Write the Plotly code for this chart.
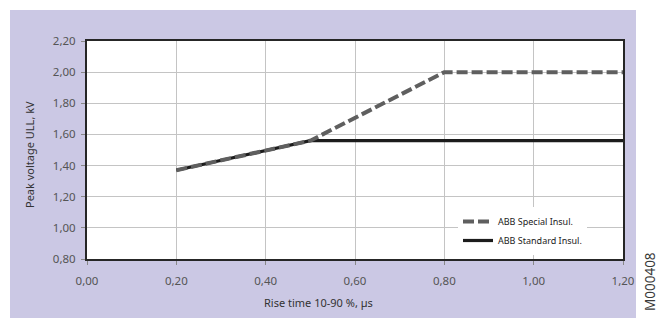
import plotly.graph_objects as go

# Rise time (µs) and peak line-to-line voltage (kV)
special_x = [0.20, 0.50, 0.80, 1.20]
special_y = [1.37, 1.56, 2.00, 2.00]
standard_x = [0.20, 0.50, 1.20]
standard_y = [1.37, 1.56, 1.56]

x_ticks = [0.0, 0.2, 0.4, 0.6, 0.8, 1.0, 1.2]
y_ticks = [0.8, 1.0, 1.2, 1.4, 1.6, 1.8, 2.0, 2.2]

W, H = 662, 321
L, R, T, B = 87, 39, 41, 62
pw, ph = W - L - R, H - T - B


def px_x(p):
    return (p - L) / pw


def px_y(p):
    return (H - B - p) / ph


fig = go.Figure()

# Standard drawn first so the dashed special line sits on top where they overlap
fig.add_trace(go.Scatter(
    x=standard_x, y=standard_y, mode="lines", name="ABB Standard Insul.",
    line=dict(color="#1c1c1c", width=3.2), legendrank=2,
))
fig.add_trace(go.Scatter(
    x=special_x, y=special_y, mode="lines", name="ABB Special Insul.",
    line=dict(color="#5f5f5f", width=4, dash="11px,4px"), legendrank=1,
))

# lavender panel behind the chart, with a white plotting area on top of it
fig.add_shape(
    type="rect", xref="paper", yref="paper", layer="below",
    x0=px_x(10), x1=px_x(636), y0=px_y(318), y1=px_y(10),
    fillcolor="#cbc8e4", line_width=0,
)
fig.add_shape(
    type="rect", xref="paper", yref="paper", layer="below",
    x0=0, x1=1, y0=0, y1=1, fillcolor="white", line_width=0,
)

title_font = dict(family="Noto Sans", size=11, color="#333333")
fig.add_annotation(
    text="Rise time 10-90 %, µs", xref="paper", yref="paper",
    x=px_x(318), y=px_y(302), xanchor="center", yanchor="middle",
    showarrow=False, font=title_font,
)
fig.add_annotation(
    text="Peak voltage ULL, kV", xref="paper", yref="paper",
    x=px_x(29), y=px_y(155), xanchor="center", yanchor="middle",
    textangle=-90, showarrow=False, font=title_font,
)
fig.add_annotation(
    text="M000408", xref="paper", yref="paper",
    x=px_x(650), y=px_y(282), xanchor="center", yanchor="middle",
    textangle=-90, showarrow=False, borderpad=0,
    font=dict(family="Noto Sans", size=13.5, color="#3a3a3a"),
)

axis_font = dict(family="Noto Sans", size=11.5, color="#555555")
common = dict(
    tickformat=".2f", showgrid=True, gridcolor="#c4c4c4", gridwidth=1,
    zeroline=False, showline=True, linecolor="#262626", linewidth=2,
    mirror=True, ticks="outside", ticklen=4, tickcolor="#888888",
    tickfont=axis_font,
)
fig.update_xaxes(range=[0, 1.2], tickvals=x_ticks, ticklabelstandoff=6, **common)
fig.update_yaxes(range=[0.8, 2.2], tickvals=y_ticks, ticklabelstandoff=3, **common)

fig.update_layout(
    width=W, height=H,
    margin=dict(l=L, r=R, t=T, b=B, autoexpand=False),
    paper_bgcolor="white", plot_bgcolor="white",
    separators=",.",
    showlegend=True,
    legend=dict(
        x=px_x(458), y=px_y(207), xanchor="left", yanchor="top",
        bgcolor="white", borderwidth=0,
        font=dict(family="Noto Sans", size=9, color="#222222"),
        tracegroupgap=0,
    ),
)

fig.write_html("out.html")
